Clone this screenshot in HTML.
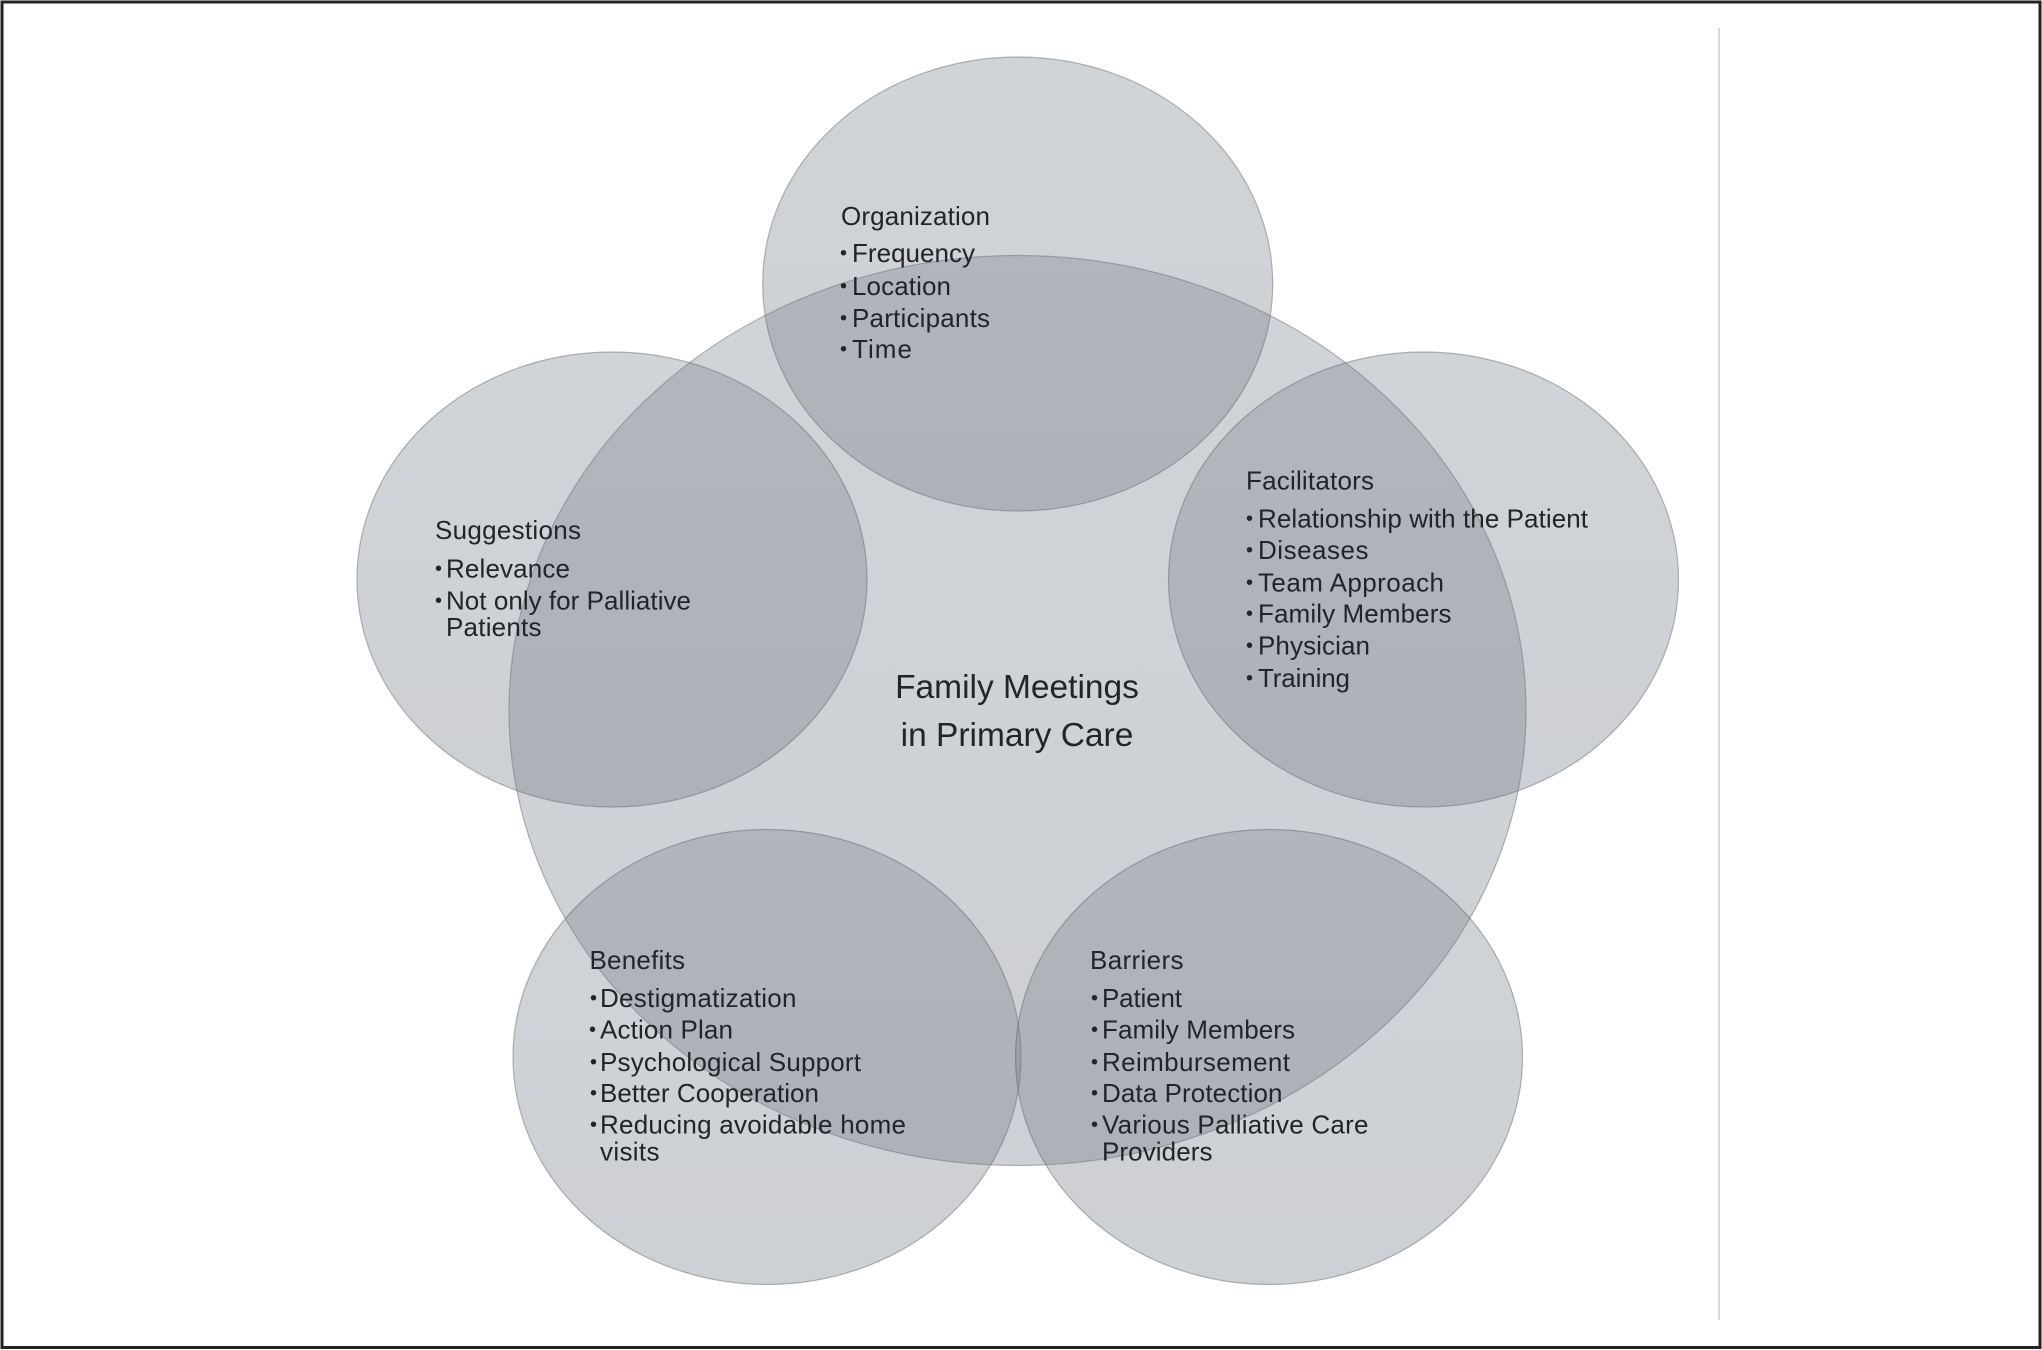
<!DOCTYPE html>
<html><head><meta charset="utf-8"><style>
html,body{margin:0;padding:0;background:#fff;width:2042px;height:1350px;overflow:hidden}
svg{display:block}
text{font-family:"Liberation Sans",Arial,sans-serif;font-size:26px;fill:#222428}
.t{font-size:33.500px;text-anchor:middle}
.b{font-size:20px}
</style></head><body>
<svg width="2042" height="1350" viewBox="0 0 2042 1350" xmlns="http://www.w3.org/2000/svg">
<defs><linearGradient id="g" x1="0" y1="0" x2="0" y2="1"><stop offset="0" stop-color="#76808a"/><stop offset="1" stop-color="#6c7480"/></linearGradient></defs>
<rect width="2042" height="1350" fill="#fff"/>
<rect x="2" y="2" width="2038" height="1345.500" fill="none" stroke="#222" stroke-width="3"/>
<line x1="1719" y1="28" x2="1719" y2="1320" stroke="#c8c8c8" stroke-width="1.500"/>
<g fill="url(#g)" fill-opacity=".34" stroke="#5e6268" stroke-opacity=".45" stroke-width="1.200">
<ellipse cx="1017.500" cy="710.500" rx="508.500" ry="455"/>
<ellipse cx="1017.700" cy="284" rx="255" ry="227"/>
<ellipse cx="612" cy="579.500" rx="255" ry="227.500"/>
<ellipse cx="1423.500" cy="579.500" rx="255" ry="227.500"/>
<ellipse cx="767" cy="1057" rx="254" ry="227.500"/>
<ellipse cx="1269" cy="1057" rx="253.500" ry="227.500"/>
</g>
<text class="t" x="1017" y="698">Family Meetings</text>
<text class="t" x="1017" y="746">in Primary Care</text>

<text x="841" y="225" textLength="149" lengthAdjust="spacing">Organization</text>
<text class="b" x="840" y="259.500">•</text><text x="852" y="262" textLength="123" lengthAdjust="spacing">Frequency</text>
<text class="b" x="840" y="292.500">•</text><text x="852" y="295" textLength="99" lengthAdjust="spacing">Location</text>
<text class="b" x="840" y="324.500">•</text><text x="852" y="327" textLength="138" lengthAdjust="spacing">Participants</text>
<text class="b" x="840" y="355.500">•</text><text x="852" y="358" textLength="60" lengthAdjust="spacing">Time</text>

<text x="435" y="539" textLength="146" lengthAdjust="spacing">Suggestions</text>
<text class="b" x="435" y="575">•</text><text x="446" y="577.500" textLength="124" lengthAdjust="spacing">Relevance</text>
<text class="b" x="435" y="607">•</text><text x="446" y="609.500" textLength="245" lengthAdjust="spacing">Not only for Palliative</text>
<text x="446" y="636" textLength="95.500" lengthAdjust="spacing">Patients</text>

<text x="1246" y="489.500" textLength="128" lengthAdjust="spacing">Facilitators</text>
<text class="b" x="1246" y="525">•</text><text x="1258" y="527.500" textLength="330" lengthAdjust="spacing">Relationship with the Patient</text>
<text class="b" x="1246" y="556.500">•</text><text x="1258" y="559" textLength="110.500" lengthAdjust="spacing">Diseases</text>
<text class="b" x="1246" y="589">•</text><text x="1258" y="591.500" textLength="186" lengthAdjust="spacing">Team Approach</text>
<text class="b" x="1246" y="620">•</text><text x="1258" y="622.500" textLength="193.500" lengthAdjust="spacing">Family Members</text>
<text class="b" x="1246" y="652">•</text><text x="1258" y="654.500" textLength="112" lengthAdjust="spacing">Physician</text>
<text class="b" x="1246" y="684.500">•</text><text x="1258" y="687" textLength="92" lengthAdjust="spacing">Training</text>

<text x="589.500" y="969" textLength="95.500" lengthAdjust="spacing">Benefits</text>
<text class="b" x="590" y="1004.500">•</text><text x="600" y="1007" textLength="196.500" lengthAdjust="spacing">Destigmatization</text>
<text class="b" x="589" y="1036">•</text><text x="600" y="1038.500" textLength="133" lengthAdjust="spacing">Action Plan</text>
<text class="b" x="590" y="1068.500">•</text><text x="600" y="1071" textLength="261" lengthAdjust="spacing">Psychological Support</text>
<text class="b" x="590" y="1099.500">•</text><text x="600" y="1102" textLength="219" lengthAdjust="spacing">Better Cooperation</text>
<text class="b" x="590" y="1131">•</text><text x="600" y="1133.500" textLength="306" lengthAdjust="spacing">Reducing avoidable home</text>
<text x="600" y="1160.500" textLength="59.500" lengthAdjust="spacing">visits</text>

<text x="1090" y="969" textLength="93.500" lengthAdjust="spacing">Barriers</text>
<text class="b" x="1091" y="1004.500">•</text><text x="1102" y="1007" textLength="80" lengthAdjust="spacing">Patient</text>
<text class="b" x="1091" y="1036">•</text><text x="1102" y="1038.500" textLength="193" lengthAdjust="spacing">Family Members</text>
<text class="b" x="1091" y="1068.500">•</text><text x="1102" y="1071" textLength="188" lengthAdjust="spacing">Reimbursement</text>
<text class="b" x="1091" y="1099.500">•</text><text x="1102" y="1102" textLength="180.500" lengthAdjust="spacing">Data Protection</text>
<text class="b" x="1091" y="1131">•</text><text x="1102" y="1133.500" textLength="266.500" lengthAdjust="spacing">Various Palliative Care</text>
<text x="1102" y="1160.500" textLength="110.500" lengthAdjust="spacing">Providers</text>
</svg>
</body></html>
